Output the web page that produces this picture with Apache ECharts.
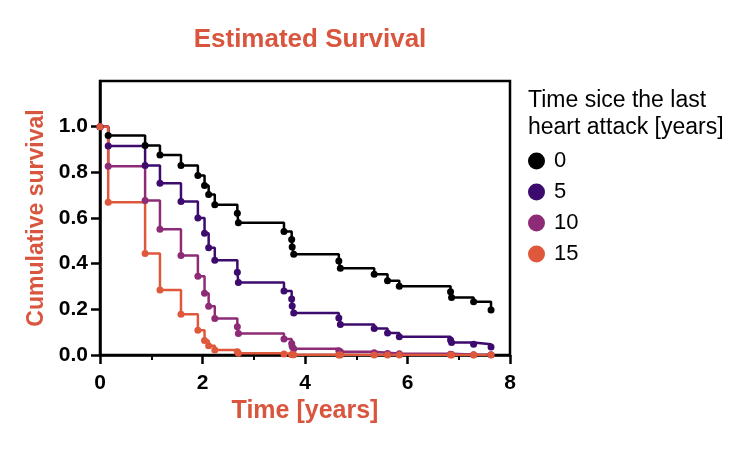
<!DOCTYPE html>
<html>
<head>
<meta charset="utf-8">
<script src="https://cdn.jsdelivr.net/npm/echarts@6/dist/echarts.min.js"></script>
<style>
  html, body { margin: 0; padding: 0; background: #fff; }
  #chart { width: 743px; height: 449px; }
</style>
</head>
<body>
<div id="chart"></div>
<script>
// event times (years), shared by all curves
const times = [0, 0.16, 0.88, 1.17, 1.58, 1.91, 2.04, 2.12, 2.24, 2.68, 2.70, 3.59, 3.74, 3.75, 3.78, 4.66, 4.69, 5.35, 5.61, 5.84, 6.84, 6.86, 7.29, 7.63];

// estimated survival per group (time since last heart attack)
const survival0 = [1.0, 0.961, 0.918, 0.876, 0.830, 0.786, 0.742, 0.703, 0.658, 0.621, 0.579, 0.541, 0.506, 0.473, 0.441, 0.412, 0.380, 0.354, 0.325, 0.301, 0.277, 0.252, 0.233, 0.197];
const survival5 = [1.0, 0.915, 0.830, 0.752, 0.672, 0.600, 0.533, 0.470, 0.415, 0.362, 0.318, 0.280, 0.245, 0.215, 0.184, 0.162, 0.134, 0.116, 0.096, 0.080, 0.066, 0.055, 0.047, 0.035];
const survival10 = [1.0, 0.827, 0.677, 0.551, 0.436, 0.345, 0.270, 0.214, 0.160, 0.124, 0.094, 0.070, 0.050, 0.037, 0.027, 0.019, 0.014, 0.010, 0.007, 0.005, 0.003, 0.002, 0.0015, 0.0007];
const survival15 = [1.0, 0.669, 0.444, 0.285, 0.178, 0.108, 0.063, 0.040, 0.022, 0.014, 0.008, 0.004, 0.002, 0.001, 0.0007, 0.0004, 0.0002, 0.0001, 0.0001, 0, 0, 0, 0, 0];

const groupNames = ["0", "5", "10", "15"];
const yTicks = [0, 0.2, 0.4, 0.6, 0.8, 1.0];

const FONT = "Liberation Sans, Arial, Helvetica, sans-serif";
const accent = "#d9553e";

const groups = [
  { name: groupNames[0], values: survival0, color: "#000000" },
  { name: groupNames[1], values: survival5, color: "#3c0b6d" },
  { name: groupNames[2], values: survival10, color: "#8e2b76" },
  { name: groupNames[3], values: survival15, color: "#e0583b" },
];

const chart = echarts.init(document.getElementById("chart"), null, { renderer: "canvas" });

const series = groups.map((g) => ({
  name: g.name,
  type: "line",
  step: "end",
  data: times.map((t, i) => [t, g.values[i]]),
  symbol: "circle",
  symbolSize: 7,
  showSymbol: true,
  lineStyle: { width: 2.5, color: g.color },
  itemStyle: { color: g.color },
  emphasis: { disabled: true },
  animation: false,
}));

chart.setOption({
  backgroundColor: "#ffffff",
  textStyle: { fontFamily: FONT },
  title: [
    {
      text: "Estimated Survival",
      left: 305,
      textAlign: "center",
      top: 22,
      textStyle: { color: accent, fontSize: 26, fontWeight: "bold", fontFamily: FONT },
    },
    {
      text: "Time sice the last\nheart attack [years]",
      left: 523,
      top: 82,
      textStyle: { color: "#000", fontSize: 23, fontWeight: "normal", lineHeight: 27, fontFamily: FONT },
    },
  ],
  legend: {
    orient: "vertical",
    left: 523,
    top: 145,
    icon: "circle",
    itemWidth: 17,
    itemHeight: 17,
    itemGap: 9,
    data: groupNames,
    textStyle: { color: "#000", fontSize: 22, fontFamily: FONT, padding: [0, 0, 0, 4] },
  },
  grid: {
    left: 100,
    top: 81,
    width: 410,
    height: 274,
    show: true,
    borderColor: "#000",
    borderWidth: 2.5,
    backgroundColor: "transparent",
  },
  xAxis: {
    type: "value",
    min: 0,
    max: 8,
    interval: 2,
    name: "Time [years]",
    nameLocation: "middle",
    nameGap: 43,
    nameTextStyle: { color: accent, fontSize: 25, fontWeight: "bold", fontFamily: FONT },
    axisLine: { show: true, onZero: false, lineStyle: { color: "#000", width: 2.5 } },
    axisTick: { show: true, length: 9, lineStyle: { color: "#000", width: 2.5 } },
    minorTick: { show: true, splitNumber: 2, length: 5, lineStyle: { color: "#000", width: 2 } },
    axisLabel: { color: "#000", fontSize: 21, fontWeight: "bold", margin: 18, fontFamily: FONT },
    splitLine: { show: false },
  },
  yAxis: {
    type: "value",
    min: 0,
    max: 1.2,
    interval: 0.2,
    name: "Cumulative survival",
    nameLocation: "middle",
    nameGap: 51,
    nameTextStyle: { color: accent, fontSize: 23, fontWeight: "bold", fontFamily: FONT },
    axisLine: { show: true, onZero: false, lineStyle: { color: "#000", width: 2.5 } },
    axisTick: { show: true, length: 9, customValues: yTicks, lineStyle: { color: "#000", width: 2.5 } },
    axisLabel: {
      color: "#000",
      fontSize: 21,
      fontWeight: "bold",
      margin: 12,
      fontFamily: FONT,
      customValues: yTicks,
      formatter: (v) => v.toFixed(1),
    },
    splitLine: { show: false },
  },
  series: series,
});
</script>
</body>
</html>
